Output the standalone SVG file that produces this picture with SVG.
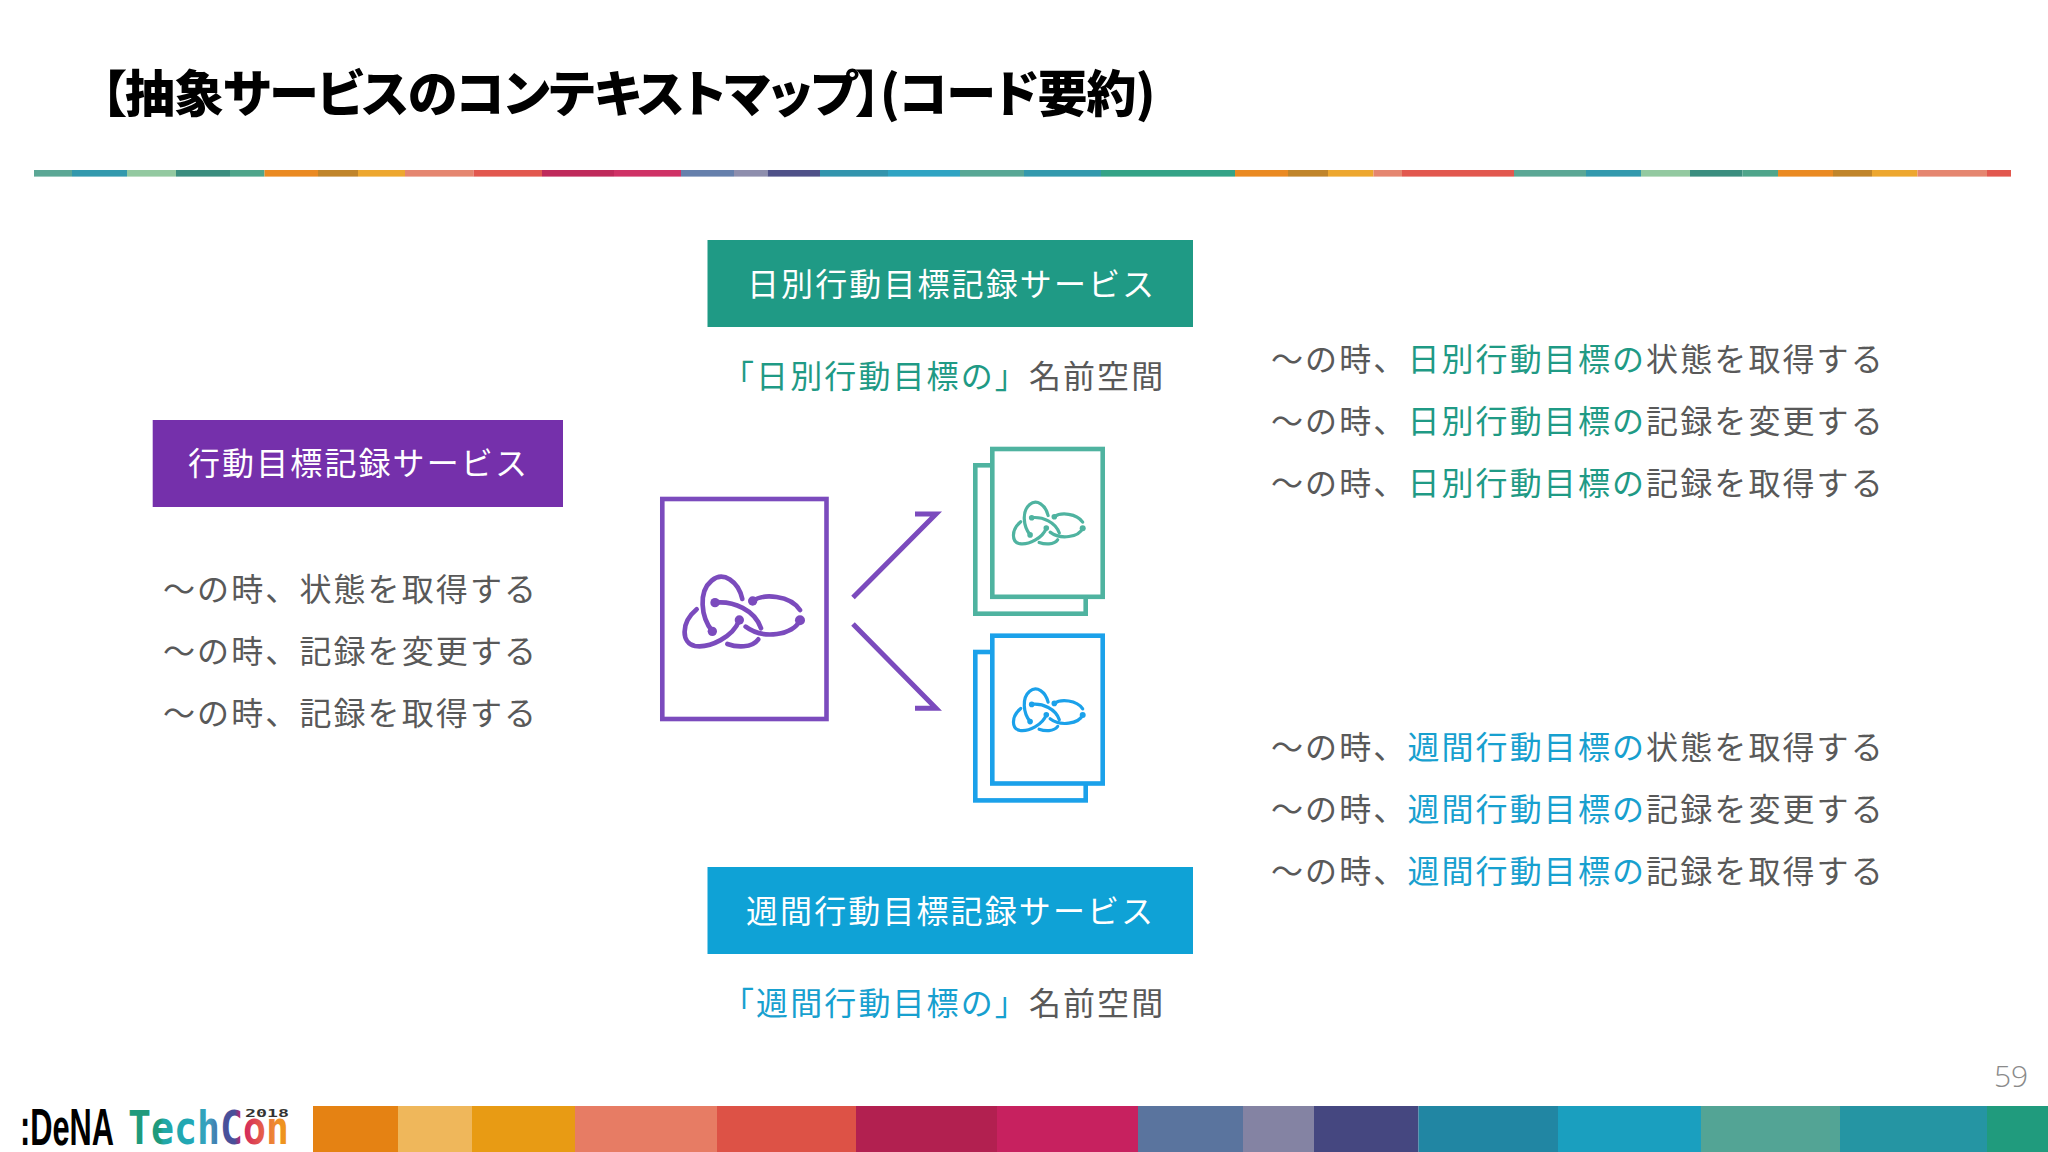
<svg xmlns="http://www.w3.org/2000/svg" xmlns:xlink="http://www.w3.org/1999/xlink" width="2048" height="1152" viewBox="0 0 2048 1152">
<style>
text{font-family:"Noto Sans CJK JP","Noto Sans",sans-serif}
.t{font-size:32px;letter-spacing:2.1px;fill:#595959}
.w{font-size:32px;letter-spacing:2.1px;fill:#fff}
.g{fill:#1f9a85}
.b{fill:#17a0cf}
.doc{fill:#fff;stroke-width:4.6}
.dg{stroke:#4fb3a0}
.db{stroke:#1ba1ea}
.dp{stroke:#7b4bbd}
.arrow{fill:none;stroke:#7b4bbd;stroke-width:5;stroke-miterlimit:8}
.strip rect{y:170px;height:6.6px}
.logo{font-family:"DejaVu Sans Mono",monospace;font-weight:700}
</style>
<defs>
<g id="knot" fill="none" stroke="currentColor" stroke-linecap="round">
<path d="M97 214C62 170 55 95 95 62C130 32 175 65 187 117"/>
<path d="M105 128C160 122 225 150 243 205"/>
<path d="M218 123C250 100 330 105 360 150"/>
<path d="M360 181C340 225 250 240 197 200"/>
<path d="M178 180C160 230 90 265 45 258C5 250 0 190 50 148"/>
<path d="M142 252C170 262 215 265 235 238"/>
<g stroke="none" fill="currentColor"><circle cx="97" cy="214" r="14"/><circle cx="105" cy="128" r="14"/><circle cx="218" cy="123" r="14"/><circle cx="360" cy="181" r="15"/><circle cx="178" cy="180" r="14"/></g>
</g>
<linearGradient id="lg" gradientUnits="userSpaceOnUse" x1="128" y1="0" x2="290" y2="0">
<stop offset="0" stop-color="#1f9a7c"/><stop offset=".2" stop-color="#1f9a7c"/><stop offset=".22" stop-color="#22a7a8"/><stop offset=".42" stop-color="#22a7b8"/><stop offset=".5" stop-color="#3f9fbf"/><stop offset=".6" stop-color="#49509a"/><stop offset=".66" stop-color="#49509a"/><stop offset=".7" stop-color="#cf1f5f"/><stop offset=".82" stop-color="#e4594c"/><stop offset=".9" stop-color="#ee8833"/><stop offset="1" stop-color="#ef9d10"/>
</linearGradient>
</defs>
<rect width="2048" height="1152" fill="#fff"/>

<g id="title"><text x="101" y="112" font-size="50" font-weight="900" fill="#000" letter-spacing="-1" style="font-feature-settings:'palt'">【抽象サービスのコンテキストマップ】(コード要約)</text></g>

<g id="top-strip" class="strip">
<rect x="34" width="38" fill="#5ba795"/><rect x="72" width="55" fill="#3399ad"/><rect x="127" width="49" fill="#93c9a0"/><rect x="176" width="54" fill="#3b8e7f"/><rect x="230" width="34.500" fill="#4fa58b"/><rect x="264.500" width="53.500" fill="#ea8a22"/><rect x="318" width="40" fill="#c0852b"/><rect x="358" width="47" fill="#eda72f"/><rect x="405" width="68.500" fill="#e58670"/><rect x="473.500" width="68.500" fill="#e2584f"/><rect x="542" width="72" fill="#bf2a5b"/><rect x="614" width="67" fill="#cf3266"/><rect x="681" width="53" fill="#6680ac"/><rect x="734" width="33.500" fill="#8e8ead"/><rect x="767.500" width="52.500" fill="#4f5188"/><rect x="820" width="68" fill="#3294ad"/><rect x="888" width="72" fill="#2fa4c3"/><rect x="960" width="64" fill="#58a795"/><rect x="1024" width="77" fill="#3399ad"/><rect x="1101" width="134" fill="#34a387"/><rect x="1235" width="53" fill="#ea8a22"/><rect x="1288" width="40" fill="#c0852b"/><rect x="1328" width="45.500" fill="#eda72f"/><rect x="1373.500" width="28.500" fill="#e58670"/><rect x="1402" width="112" fill="#e2584f"/><rect x="1514" width="72" fill="#5ba795"/><rect x="1586" width="55" fill="#3399ad"/><rect x="1641" width="49" fill="#93c9a0"/><rect x="1690" width="52.500" fill="#3b8e7f"/><rect x="1742.500" width="35.500" fill="#4fa58b"/><rect x="1778" width="55" fill="#ea8a22"/><rect x="1833" width="39" fill="#c0852b"/><rect x="1872" width="45.500" fill="#eda72f"/><rect x="1917.500" width="69.500" fill="#e58670"/><rect x="1987" width="24" fill="#e2584f"/>
</g>

<g id="daily-service"><rect x="707.500" y="240" width="485.500" height="87" fill="#1f9a85"/><text class="w" x="747" y="296">日別行動目標記録サービス</text></g>
<g id="daily-namespace"><text class="t" x="722" y="388"><tspan class="g">「日別行動目標の」</tspan>名前空間</text></g>

<g id="abstract-service"><rect x="152.700" y="420" width="410.300" height="87" fill="#7530ab"/><text class="w" x="188" y="475">行動目標記録サービス</text></g>
<g id="abstract-list">
<text class="t" x="163" y="601">〜の時、状態を取得する</text>
<text class="t" x="163" y="663">〜の時、記録を変更する</text>
<text class="t" x="163" y="725">〜の時、記録を取得する</text>
</g>

<g id="weekly-service"><rect x="707.500" y="867" width="485.500" height="87" fill="#0fa2d6"/><text class="w" x="746" y="923">週間行動目標記録サービス</text></g>
<g id="weekly-namespace"><text class="t" x="722" y="1015"><tspan class="b">「週間行動目標の」</tspan>名前空間</text></g>

<g id="daily-list">
<text class="t" x="1271" y="371">〜の時、<tspan class="g">日別行動目標の</tspan>状態を取得する</text>
<text class="t" x="1271" y="433">〜の時、<tspan class="g">日別行動目標の</tspan>記録を変更する</text>
<text class="t" x="1271" y="495">〜の時、<tspan class="g">日別行動目標の</tspan>記録を取得する</text>
</g>
<g id="weekly-list">
<text class="t" x="1271" y="759">〜の時、<tspan class="b">週間行動目標の</tspan>状態を取得する</text>
<text class="t" x="1271" y="821">〜の時、<tspan class="b">週間行動目標の</tspan>記録を変更する</text>
<text class="t" x="1271" y="883">〜の時、<tspan class="b">週間行動目標の</tspan>記録を取得する</text>
</g>

<g id="abstract-doc">
<rect class="doc dp" x="662.300" y="499" width="164.200" height="220"/>
<use href="#knot" xlink:href="#knot" transform="translate(680 560) scale(.3333)" color="#7b4bbd" stroke-width="14"/>
</g>

<g id="daily-doc">
<rect class="doc dg" x="975.300" y="465.300" width="110.400" height="148.400"/>
<rect class="doc dg" x="992.300" y="449" width="110.400" height="147.800"/>
<use href="#knot" xlink:href="#knot" transform="translate(1010.700 492.100) scale(.2)" color="#4fb3a0" stroke-width="16"/>
</g>

<g id="weekly-doc">
<rect class="doc db" x="975.300" y="652" width="110.400" height="148.400"/>
<rect class="doc db" x="992.300" y="635.700" width="110.400" height="147.800"/>
<use href="#knot" xlink:href="#knot" transform="translate(1010.700 678.800) scale(.2)" color="#1ba1ea" stroke-width="16"/>
</g>

<g id="connectors">
<path class="arrow" d="M853 597.500L936 514H915"/>
<path class="arrow" d="M853 624L936 708.300H915"/>
</g>

<g id="page-number"><text x="1994" y="1087" font-size="30" fill="#8a8a8a" style="font-family:'Open Sans','Noto Sans',sans-serif;font-weight:300">59</text></g>

<g id="footer-band">
<rect x="313" y="1106" width="85" height="46" fill="#e58213"/><rect x="398" y="1106" width="74" height="46" fill="#efb75b"/><rect x="472" y="1106" width="103" height="46" fill="#e89b14"/><rect x="575" y="1106" width="142" height="46" fill="#e77c64"/><rect x="717" y="1106" width="139" height="46" fill="#dd5246"/><rect x="856" y="1106" width="141" height="46" fill="#b22050"/><rect x="997" y="1106" width="141" height="46" fill="#c7215f"/><rect x="1138" y="1106" width="105" height="46" fill="#5a749e"/><rect x="1243" y="1106" width="71" height="46" fill="#8483a3"/><rect x="1314" y="1106" width="104.500" height="46" fill="#454780"/><rect x="1418.500" y="1106" width="139.500" height="46" fill="#2186a3"/><rect x="1558" y="1106" width="143" height="46" fill="#1a9fbf"/><rect x="1701" y="1106" width="139" height="46" fill="#53a495"/><rect x="1840" y="1106" width="147" height="46" fill="#2595a3"/><rect x="1987" y="1106" width="61" height="46" fill="#209b7d"/>
</g>

<g id="logo">
<text x="20" y="1145" font-size="52" font-weight="700" fill="#000" textLength="94" lengthAdjust="spacingAndGlyphs" style="font-family:'Liberation Sans',sans-serif">:DeNA</text>
<text class="logo" x="128" y="1144" font-size="47" fill="url(#lg)" textLength="161" lengthAdjust="spacingAndGlyphs">TechCon</text>
<text class="logo" x="245" y="1117" font-size="11" fill="#333" textLength="44" lengthAdjust="spacingAndGlyphs">2018</text>
</g>
</svg>
